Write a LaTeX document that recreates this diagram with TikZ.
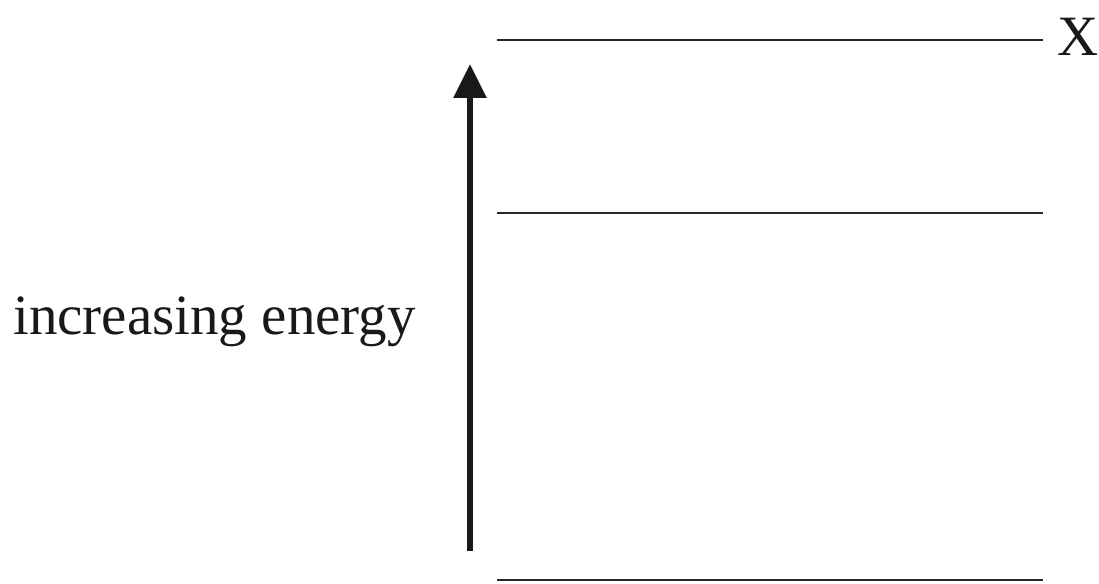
\documentclass[tikz,border=0pt]{standalone}
\usepackage{fontspec}
\setmainfont{Liberation Serif}
\usetikzlibrary{arrows.meta}
\begin{document}
\begin{tikzpicture}[x=1pt,y=-1pt,
  level/.style={line width=1.4pt, draw=black!85},
  energyarrow/.style={line width=5.5pt, draw=black!90, -{Triangle[length=34pt,width=32pt]}},
  lbl/.style={inner sep=0pt, font=\fontsize{57}{60}\selectfont, text=black!90}]
\useasboundingbox (0,0) rectangle (1099,583);
\coordinate (l1a) at (497,40);  \coordinate (l1b) at (1043,40);
\coordinate (l2a) at (497,213); \coordinate (l2b) at (1043,213);
\coordinate (l3a) at (497,580); \coordinate (l3b) at (1043,580);
\coordinate (arrS) at (470,551); \coordinate (arrE) at (470,64);
\draw[level] (l1a) -- (l1b);
\draw[level] (l2a) -- (l2b);
\draw[level] (l3a) -- (l3b);
\draw[energyarrow] (arrS) -- (arrE);
\node[lbl, anchor=base west] (X) at (1057,56) {X};
\node[lbl, anchor=base west] (ie) at (13,334) {increasing energy};
\end{tikzpicture}
\end{document}
